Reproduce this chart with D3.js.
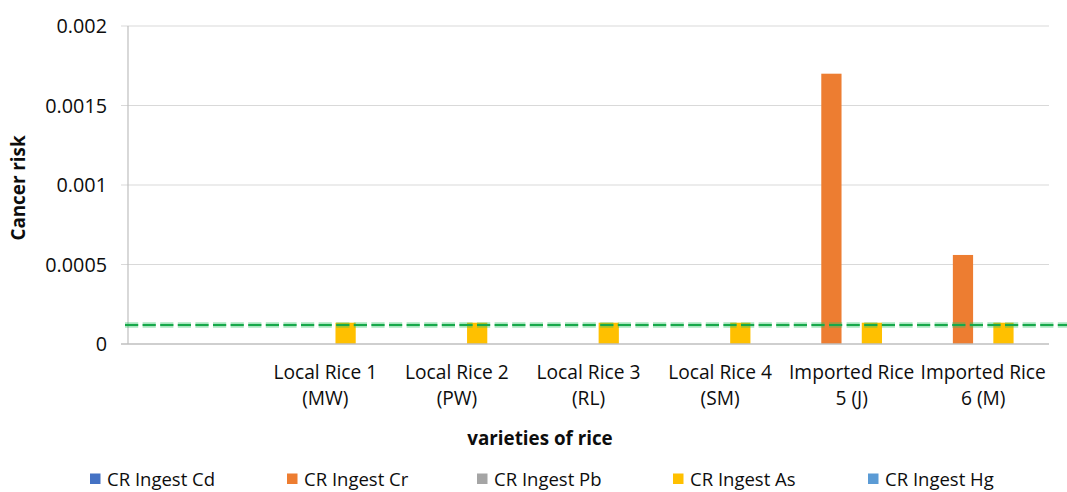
<!DOCTYPE html>
<html>
<head>
<meta charset="utf-8">
<script src="https://cdn.jsdelivr.net/npm/d3@7/dist/d3.min.js"></script>
<style>
  html, body { margin: 0; padding: 0; background: #fff; }
  svg { display: block; font-family: "Open Sans", "Liberation Sans", sans-serif; }
</style>
</head>
<body>
<svg id="chart" width="1067" height="492"></svg>
<script>
// ---- data ----
const categories = ["", "Local Rice 1\n(MW)", "Local Rice 2\n(PW)", "Local Rice 3\n(RL)", "Local Rice 4\n(SM)", "Imported Rice\n5 (J)", "Imported Rice\n6 (M)"];
const seriesNames = ["CR Ingest Cd", "CR Ingest Cr", "CR Ingest Pb", "CR Ingest As", "CR Ingest Hg"];
const cdValues = [null, 0, 0, 0, 0, 0, 0];
const crValues = [null, 0, 0, 0, 0, 0.0017, 0.00056];
const pbValues = [null, 0, 0, 0, 0, 0, 0];
const asValues = [null, 0.000134, 0.000134, 0.000134, 0.000134, 0.000134, 0.000134];
const hgValues = [null, 0, 0, 0, 0, 0, 0];
const seriesColors = ["#4472c4", "#ed7d31", "#a5a5a5", "#ffc000", "#5b9bd5"];
const yTicks = [0, 0.0005, 0.001, 0.0015, 0.002];
const yTickLabels = ["0", "0.0005", "0.001", "0.0015", "0.002"];
const thresholdValue = 0.00012;
const xTitle = "varieties of rice";
const yTitle = "Cancer risk";

const seriesValues = [cdValues, crValues, pbValues, asValues, hgValues];

// ---- layout ----
const svg = d3.select("#chart");
const plot = { left: 128, right: 1049, top: 26, bottom: 344 };

const x = d3.scaleBand().domain(d3.range(categories.length)).range([plot.left, plot.right]).padding(0);
const y = d3.scaleLinear().domain([0, 0.002]).range([plot.bottom, plot.top]);

const bw = x.bandwidth();
const barW = bw / 6.5;
const x1 = d3.scaleBand().domain(d3.range(seriesNames.length))
  .range([(bw - barW * 5) / 2, (bw + barW * 5) / 2]).padding(0);

// gridlines
svg.append("g").selectAll("line").data(yTicks.filter(d => d > 0)).join("line")
  .attr("x1", plot.left - 7).attr("x2", plot.right)
  .attr("y1", d => y(d)).attr("y2", d => y(d))
  .attr("stroke", "#d9d9d9").attr("stroke-width", 1.2);

// y axis line
svg.append("line").attr("x1", plot.left).attr("x2", plot.left)
  .attr("y1", plot.top).attr("y2", plot.bottom)
  .attr("stroke", "#bfbfbf").attr("stroke-width", 1.2);

// y tick labels
svg.append("g").selectAll("text").data(yTicks).join("text")
  .attr("x", 107).attr("y", d => y(d)).attr("dy", "0.36em")
  .attr("text-anchor", "end").attr("font-size", 19.8).attr("fill", "#0d0d0d")
  .text((d, i) => yTickLabels[i]);

// bars
const groups = svg.append("g").selectAll("g").data(categories.map((c, i) => i)).join("g")
  .attr("transform", i => `translate(${x(i)},0)`);
groups.selectAll("rect")
  .data(ci => seriesValues.map((vals, si) => ({ si, v: vals[ci] })).filter(d => d.v))
  .join("rect")
  .attr("x", d => x1(d.si)).attr("width", x1.bandwidth())
  .attr("y", d => y(d.v)).attr("height", d => y(0) - y(d.v))
  .attr("fill", d => seriesColors[d.si]);

// x axis baseline
svg.append("line").attr("x1", plot.left - 7).attr("x2", plot.right)
  .attr("y1", plot.bottom).attr("y2", plot.bottom)
  .attr("stroke", "#bfbfbf").attr("stroke-width", 1.4);

// threshold dashed line
const ty = y(thresholdValue);
svg.append("line").attr("x1", 125).attr("x2", 1067).attr("y1", ty).attr("y2", ty)
  .attr("stroke", "#27c061").attr("stroke-opacity", 0.4).attr("stroke-width", 5.5)
  .attr("stroke-dasharray", "13.2 4.4");
svg.append("line").attr("x1", 125).attr("x2", 1067).attr("y1", ty).attr("y2", ty)
  .attr("stroke", "#17a84a").attr("stroke-width", 2)
  .attr("stroke-dasharray", "13.2 4.4");

// category labels (two lines each)
const labelData = [];
categories.forEach((c, i) => c.split("\n").forEach((line, j) => { if (line) labelData.push({ i, j, line }); }));
svg.append("g").selectAll("text").data(labelData).join("text")
  .attr("x", d => x(d.i) + bw / 2).attr("y", d => 379 + d.j * 26)
  .attr("text-anchor", "middle").attr("font-size", 19.2).attr("fill", "#0d0d0d")
  .text(d => d.line);

// axis titles
svg.append("text").attr("x", 540).attr("y", 445).attr("text-anchor", "middle")
  .attr("font-size", 18.8).attr("font-weight", "bold").attr("fill", "#0d0d0d").text(xTitle);
svg.append("text").attr("transform", "translate(25,188) rotate(-90)").attr("text-anchor", "middle")
  .attr("font-size", 18.8).attr("font-weight", "bold").attr("fill", "#0d0d0d").text(yTitle);

// legend
const legendX = [90, 287, 477, 673, 868];
const leg = svg.append("g").selectAll("g").data(seriesNames).join("g")
  .attr("transform", (d, i) => `translate(${legendX[i]},479)`);
leg.append("rect").attr("x", 0).attr("y", -5.5).attr("width", 10.5).attr("height", 10.5)
  .attr("fill", (d, i) => seriesColors[i]);
leg.append("text").attr("x", 17).attr("dy", "0.36em").attr("font-size", 18.5).attr("fill", "#0d0d0d")
  .text(d => d);
</script>
</body>
</html>
